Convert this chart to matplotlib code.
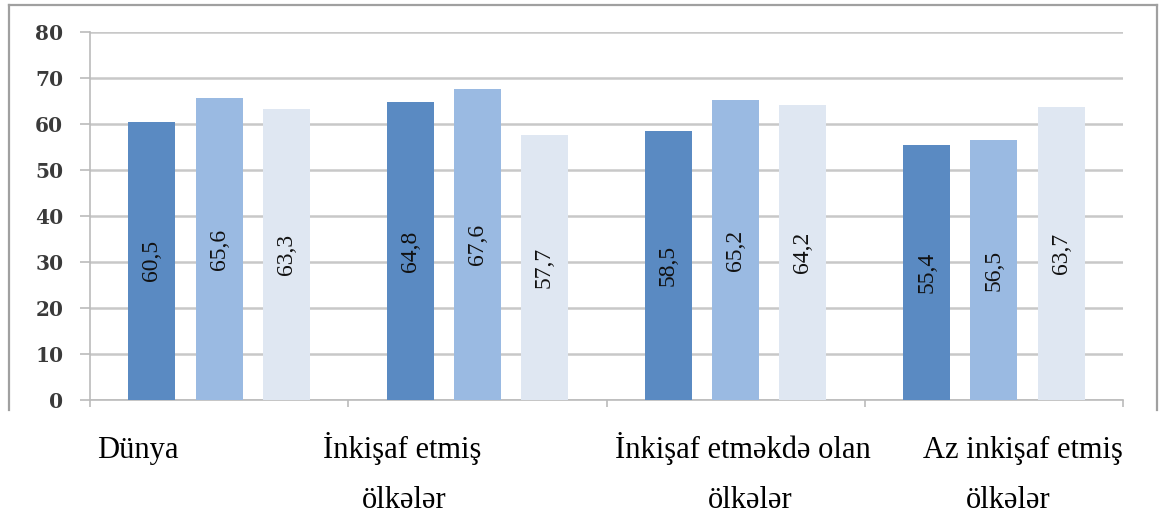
import matplotlib
matplotlib.use("Agg")
import matplotlib.pyplot as plt
from matplotlib.lines import Line2D
import numpy as np

categories = ["Dünya", "İnkişaf etmiş\nölkələr", "İnkişaf etməkdə olan\nölkələr", "Az inkişaf etmiş\nölkələr"]
series_a = [60.5, 64.8, 58.5, 55.4]
series_b = [65.6, 67.6, 65.2, 56.5]
series_c = [63.3, 57.7, 64.2, 63.7]
yticks = [0, 10, 20, 30, 40, 50, 60, 70, 80]

SERIF = ["Liberation Serif", "DejaVu Serif"]
colors = ["#5A8AC2", "#9ABAE2", "#DFE7F2"]
W, H = 1160, 519
fig = plt.figure(figsize=(W / 100, H / 100), dpi=100)
ax = fig.add_axes([90 / W, 1 - 400 / H, (1123 - 90) / W, (400 - 32) / H])

x = np.arange(len(categories))
offsets = [-0.26, 0.0, 0.26]
bw = 0.182
for vals, off, c in zip([series_a, series_b, series_c], offsets, colors):
    bars = ax.bar(x + off, vals, width=bw, color=c, zorder=3)
    for b, v in zip(bars, vals):
        ax.text(b.get_x() + b.get_width() / 2, v / 2, f"{v:.1f}".replace(".", ","),
                rotation=90, ha="center", va="center", fontsize=17,
                family=SERIF, color="#111111", zorder=4)

ax.set_xlim(-0.5, len(categories) - 0.5)
ax.set_ylim(0, 80)
ax.set_yticks(yticks)
ax.set_yticklabels([str(t) for t in yticks], family="DejaVu Serif", fontsize=14.5,
                   color="#3A3A3A", fontweight="bold")
ax.yaxis.grid(True, color="#C8C8C8", lw=1.8, zorder=0)
ax.tick_params(axis="y", length=7.2, width=1.2, color="#BBBBBB", pad=12)
ax.set_xticks(np.arange(len(categories) + 1) - 0.5)
ax.set_xticklabels([])
ax.tick_params(axis="x", length=5, width=1.2, color="#BBBBBB")
for s in ["top", "right"]:
    ax.spines[s].set_visible(False)
for s in ["left", "bottom"]:
    ax.spines[s].set_color("#BBBBBB")
    ax.spines[s].set_linewidth(1.2)

# Category labels (two lines each, positioned as in the original layout)
line1_x = [138, 402, 743, 1023]
line2_x = [None, 404, 750, 1008]
for cat, x1, x2 in zip(categories, line1_x, line2_x):
    parts = cat.split("\n")
    fig.text(x1 / W, 1 - 458 / H, parts[0], ha="center", va="baseline",
             fontsize=22, family=SERIF, color="black")
    if len(parts) > 1:
        fig.text(x2 / W, 1 - 508 / H, parts[1], ha="center", va="baseline",
                 fontsize=22, family=SERIF, color="black")

# Outer chart border (cropped at the bottom)
bc = "#A0A0A0"
def px(xp, yp):
    return (np.array(xp) / W, 1 - np.array(yp) / H)
for xs, ys in [([9, 9], [5, 410]), ([9, 1157], [5, 5]), ([1157, 1157], [5, 410])]:
    fx, fy = px(xs, ys)
    fig.add_artist(Line2D(fx, fy, color=bc, lw=1.6, transform=fig.transFigure))

fig.savefig("out.png", dpi=100)
